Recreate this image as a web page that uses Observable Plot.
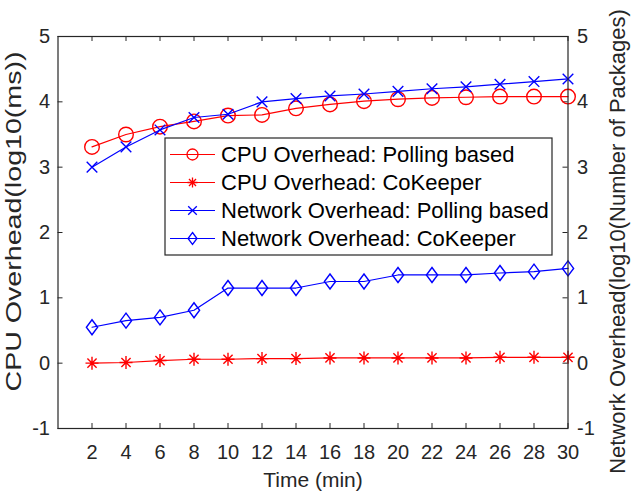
<!DOCTYPE html>
<html><head><meta charset="utf-8">
<script src="https://cdn.jsdelivr.net/npm/d3@7"></script>
<script src="https://cdn.jsdelivr.net/npm/@observablehq/plot@0.6"></script>
<style>
body{margin:0;background:#fff;}
#chart{width:631px;height:494px;}
</style></head><body><div id="chart"></div>
<script>
// ---- data ----
const time = [2, 4, 6, 8, 10, 12, 14, 16, 18, 20, 22, 24, 26, 28, 30];
const cpuPolling  = [3.31, 3.50, 3.62, 3.70, 3.79, 3.80, 3.90, 3.96, 4.01, 4.04, 4.06, 4.07, 4.08, 4.08, 4.08];
const cpuCoKeeper = [0.00, 0.01, 0.04, 0.06, 0.06, 0.07, 0.07, 0.08, 0.08, 0.08, 0.08, 0.08, 0.09, 0.09, 0.09];
const netPolling  = [3.00, 3.31, 3.57, 3.76, 3.81, 4.00, 4.05, 4.09, 4.12, 4.16, 4.20, 4.23, 4.27, 4.31, 4.35];
const netCoKeeper = [0.55, 0.65, 0.70, 0.81, 1.15, 1.15, 1.15, 1.25, 1.25, 1.35, 1.35, 1.35, 1.38, 1.40, 1.45];
const xTicks = [2, 4, 6, 8, 10, 12, 14, 16, 18, 20, 22, 24, 26, 28, 30];
const yTicks = [-1, 0, 1, 2, 3, 4, 5];
const seriesNames = [
  "CPU Overhead: Polling based",
  "CPU Overhead: CoKeeper",
  "Network Overhead: Polling based",
  "Network Overhead: CoKeeper"
];
const xLabel = "Time (min)";
const yLeftLabel = "CPU Overhead(log10(ms))";
const yRightLabel = "Network Overhead(log10(Number of Packages)";

// ---- styles ----
const FONT = "'Liberation Sans', Arial, Helvetica, sans-serif";
const INK = "#262626";
const seriesColors = ["#ff0000", "#ff0000", "#0000ff", "#0000ff"];

const symbols = {
  circle: {draw(ctx, size) { const r = Math.sqrt(size / Math.PI); ctx.moveTo(r, 0); ctx.arc(0, 0, r, 0, 2 * Math.PI); }},
  asterisk: {draw(ctx, size) { const r = Math.sqrt(size / Math.PI), d = r * Math.SQRT1_2;
    ctx.moveTo(0, -r); ctx.lineTo(0, r); ctx.moveTo(-r, 0); ctx.lineTo(r, 0);
    ctx.moveTo(-d, -d); ctx.lineTo(d, d); ctx.moveTo(-d, d); ctx.lineTo(d, -d); }},
  times: {draw(ctx, size) { const r = Math.sqrt(size / Math.PI);
    ctx.moveTo(-r, -r); ctx.lineTo(r, r); ctx.moveTo(-r, r); ctx.lineTo(r, -r); }},
  diamond: {draw(ctx, size) { const r = Math.sqrt(size / Math.PI);
    ctx.moveTo(0, -r); ctx.lineTo(r * 0.75, 0); ctx.lineTo(0, r); ctx.lineTo(-r * 0.75, 0); ctx.closePath(); }}
};
const seriesSymbols = [symbols.circle, symbols.asterisk, symbols.times, symbols.diamond];
const markerR = [7.3, 6.5, 5.3, 7.5];
const legendR = [5.5, 5, 4.3, 6];
const seriesData = [cpuPolling, cpuCoKeeper, netPolling, netCoKeeper];

const W = 631, H = 494;
const mL = 57.5, mR = 63.5, mT = 36, mB = 66;
const frameW = W - mL - mR, frameH = H - mT - mB;
const TICK = 5;
const fmt = d => String(d);

const seriesMarks = seriesData.flatMap((vals, i) => [
  Plot.line(time, {x: d => d, y: (d, j) => vals[j], stroke: seriesColors[i], strokeWidth: 1.2}),
  Plot.dot(time, {x: d => d, y: (d, j) => vals[j], symbol: seriesSymbols[i], r: markerR[i],
    stroke: seriesColors[i], fill: "none", strokeWidth: 1.4})
]);

const chart = Plot.plot({
  width: W, height: H,
  marginLeft: mL, marginRight: mR, marginTop: mT, marginBottom: mB,
  style: {fontFamily: FONT, color: INK, background: "#fff"},
  x: {domain: [0, 30]},
  y: {domain: [-1, 5]},
  marks: [
    Plot.ruleX(xTicks, {x: d => d, stroke: INK, insetTop: frameH - TICK}),
    Plot.ruleX(xTicks, {x: d => d, stroke: INK, insetBottom: frameH - TICK}),
    Plot.ruleY(yTicks, {y: d => d, stroke: INK, insetRight: frameW - TICK}),
    Plot.ruleY(yTicks, {y: d => d, stroke: INK, insetLeft: frameW - TICK}),
    Plot.axisX({ticks: xTicks, tickFormat: fmt, tickSize: 0, tickPadding: 16, fontSize: 20, fill: INK, label: null}),
    Plot.axisY({anchor: "left", ticks: yTicks, tickFormat: fmt, tickSize: 0, tickPadding: 8, fontSize: 20, fill: INK, label: null}),
    Plot.axisY({anchor: "right", ticks: yTicks, tickFormat: fmt, tickSize: 0, tickPadding: 9, fontSize: 20, fill: INK, label: null}),
    ...seriesMarks,
    Plot.frame({stroke: INK, strokeWidth: 1.2}),
    Plot.text([xLabel], {frameAnchor: "bottom", lineAnchor: "middle", dy: 52, fontSize: 21, fill: INK}),
    Plot.text([yLeftLabel], {frameAnchor: "left", textAnchor: "middle", lineAnchor: "middle", dx: -44, dy: -11, rotate: -90, fontSize: 22, fill: INK}),
    Plot.text([yRightLabel], {frameAnchor: "right", textAnchor: "middle", lineAnchor: "middle", dx: 50, dy: 9, rotate: -90, fontSize: 22, fill: INK})
  ]
});
document.getElementById("chart").appendChild(chart);

const svg = d3.select(chart);
// the left axis title in the reference is drawn longer than its glyph height suggests
svg.selectAll("text").filter(function() { return this.textContent === yLeftLabel; })
  .attr("textLength", 340).attr("lengthAdjust", "spacingAndGlyphs");

// ---- legend overlay ----
const lg = svg.append("g").attr("class", "legend");
const LX = 165, LY = 138, LW = 387, LH = 117, ROW0 = 154.5, ROWH = 28;
lg.append("rect").attr("x", LX).attr("y", LY).attr("width", LW).attr("height", LH)
  .attr("fill", "#fff").attr("stroke", INK).attr("stroke-width", 1.2);
seriesNames.forEach((name, i) => {
  const y = ROW0 + i * ROWH;
  lg.append("line").attr("x1", 170).attr("x2", 215).attr("y1", y).attr("y2", y)
    .attr("stroke", seriesColors[i]).attr("stroke-width", 1.2);
  lg.append("path").attr("transform", `translate(192.5,${y})`)
    .attr("d", d3.symbol(seriesSymbols[i], legendR[i] * legendR[i] * Math.PI)())
    .attr("fill", "none").attr("stroke", seriesColors[i]).attr("stroke-width", 1.3);
  lg.append("text").attr("x", 221).attr("y", y).attr("dy", "0.35em")
    .attr("text-anchor", "start")
    .attr("font-size", 22).attr("font-family", FONT).attr("fill", "#000").text(name);
});
</script>
</body></html>
